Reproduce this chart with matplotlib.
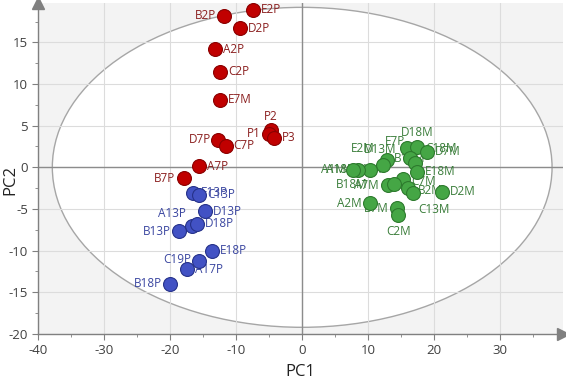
import matplotlib
matplotlib.use('Agg')
import matplotlib.pyplot as plt
from matplotlib.patches import Ellipse

plt.rcParams['font.family'] = ['Open Sans', 'DejaVu Sans']
plt.rcParams['axes.unicode_minus'] = False

# Red group
red_labels = ["E2P", "B2P", "D2P", "A2P", "C2P", "E7M", "P2", "P1", "P3", "D7P", "C7P", "A7P", "B7P"]
red_x = [-7.5, -11.8, -9.5, -13.2, -12.5, -12.5, -4.7, -5.0, -4.3, -12.8, -11.6, -15.6, -18.0]
red_y = [18.9, 18.2, 16.7, 14.2, 11.5, 8.1, 4.5, 4.0, 3.55, 3.3, 2.6, 0.1, -1.3]

# Blue group
blue_labels = ["E13P", "C13P", "D13P", "A13P", "D18P", "B13P", "E18P", "C19P", "A17P", "B18P"]
blue_x = [-16.6, -15.6, -14.7, -16.7, -15.9, -18.7, -13.75, -15.7, -17.4, -20.1]
blue_y = [-3.05, -3.3, -5.25, -7.0, -6.8, -7.65, -10.0, -11.2, -12.25, -14.0]

# Green group
green_labels = ["E7P", "D18M", "D7M", "B13M", "C18M", "E18M", "D13M", "E2M", "A13M", "A18M",
                "A1M", "C7M", "B2M", "D2M", "C13M", "A7M", "B18M", "A2M", "B7M", "C2M"]
green_x = [15.94, 17.46, 18.89, 16.35, 17.11, 17.46, 12.79, 12.29, 10.27, 8.49,
           7.73, 15.33, 16.09, 21.17, 16.84, 13.05, 13.92, 10.27, 14.33, 14.57]
green_y = [2.28, 2.47, 1.87, 1.08, 0.48, -0.53, 0.88, 0.28, -0.32, -0.32,
           -0.32, -1.44, -2.52, -2.94, -3.12, -2.12, -1.97, -4.32, -4.92, -5.72]

# label placement: (ha, dx, dy) in pixels
R = ('left', 8, 0)
L = ('right', -8, 0)
label_pos = {
    "B2P": L, "P2": ('center', 0, 13), "P1": L, "D7P": ('right', -7, 0), "B7P": L,
    "A13P": ('right', -6, 12), "B13P": L, "C19P": ('right', -7, 1), "B18P": L,
    "E7P": ('center', -12, 7), "D18M": ('center', 0, 14), "B13M": ('center', 0, 0),
    "C18M": ('left', 10, 15), "D13M": ('center', -6, 10), "E2M": ('center', -20, 16),
    "A13M": ('center', 0, 0), "A18M": ('right', -1, 0), "A1M": ('right', -7, 0),
    "C7M": ('left', 8, -2), "B2M": ('left', 10, -2), "C13M": ('center', 21, -16),
    "A7M": ('right', -10, -1), "B18M": ('right', -26, -1), "A2M": L, "B7M": L,
    "C2M": ('center', 0, -17), "C19M": ('center', 0, 0),
}

fig = plt.figure(figsize=(5.66, 3.83), dpi=100)
ax = fig.add_axes([0.068, 0.128, 0.926, 0.8637])
ax.set_xlim(-40, 39.5)
ax.set_ylim(-20, 19.7)
ax.set_facecolor('#f3f3f3')

ell = Ellipse((0, 0), 2 * 37.9, 2 * 19.2, facecolor='white', edgecolor='#a6a6a6', lw=1.0, zorder=0.3)
ax.add_patch(ell)

ax.set_axisbelow(True)
ax.grid(True, color='#dcdcdc', lw=0.8)
ax.axhline(0, color='#8c8c8c', lw=1.0, zorder=0.6)
ax.axvline(0, color='#8c8c8c', lw=1.0, zorder=0.6)

ax.set_xticks(range(-40, 31, 10))
ax.set_xticks(range(-35, 36, 5), minor=True)
ax.set_yticks(range(-20, 16, 5))
ax.set_yticks([v / 2 for v in range(-35, 36, 5)], minor=True)
ax.tick_params(which='both', colors='#808080', labelcolor='#404040', labelsize=9.5, direction='out')
ax.tick_params(which='major', length=4)
ax.tick_params(which='minor', length=2.5)
for s in ['top', 'right']:
    ax.spines[s].set_visible(False)
for s in ['left', 'bottom']:
    ax.spines[s].set_color('#808080')
    ax.spines[s].set_linewidth(1.0)
ax.plot(0, 1, '^', color='#808080', ms=9, transform=ax.transAxes, clip_on=False)
ax.plot(1, 0, '>', color='#808080', ms=9, transform=ax.transAxes, clip_on=False)

groups = [
    (red_labels, red_x, red_y, '#c00000', '#8a0000', '#8b2020'),
    (blue_labels, blue_x, blue_y, '#4252c4', '#26328a', '#3a46a0'),
    (green_labels, green_x, green_y, '#45a645', '#2d7a2d', '#3a7d3a'),
]
for labels, xs, ys, fc, ec, tc in groups:
    ax.scatter(xs, ys, s=100, c=fc, edgecolors=ec, linewidths=0.8, zorder=4)
    for lab, x, y in zip(labels, xs, ys):
        ha, dx, dy = label_pos.get(lab, R)
        ax.annotate(lab, (x, y), xytext=(dx, dy), textcoords='offset pixels',
                    ha=ha, va='center', fontsize=8.5, color=tc, zorder=3)

fig.text(0.53, 0.03, 'PC1', fontsize=12, color='#222222', ha='center', va='center')
fig.text(0.018, 0.53, 'PC2', fontsize=12, color='#222222', rotation=90, ha='center', va='center')

fig.savefig('out.png', dpi=100)
